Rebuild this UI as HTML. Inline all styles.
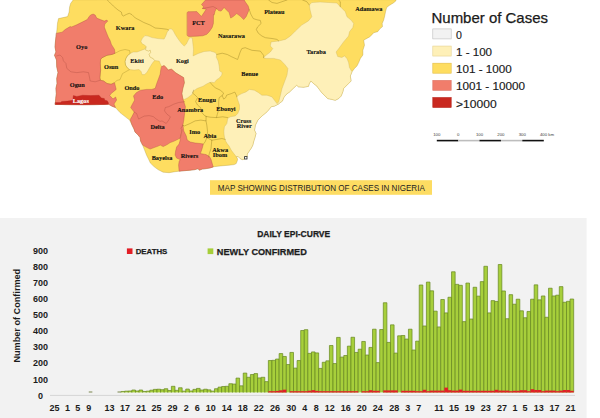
<!DOCTYPE html>
<html lang="en"><head><meta charset="utf-8"><title>COVID-19 Nigeria map and epi-curve</title>
<style>html,body{margin:0;padding:0;background:#fff}body{width:600px;height:418px;overflow:hidden}svg{display:block}</style>
</head><body>
<svg width="600" height="418" viewBox="0 0 600 418">
<rect width="600" height="418" fill="#fff"/>
<g stroke-linejoin="round" stroke-linecap="round">
<polygon points="73.1,0.0 70.6,3.5 69.6,7.0 69.1,12.1 67.6,16.6 63.1,17.6 58.5,18.6 57.5,23.1 57.0,29.1 56.5,33.2 56.0,36.2 55.5,41.0 55.0,46.9 55.9,51.9 54.5,55.3 56.5,60.0 56.7,66.8 58.0,72.6 56.7,78.5 57.0,83.5 55.9,88.5 56.3,93.6 55.7,98.6 55.3,104.4 66.8,104.6 83.5,104.7 96.9,104.6 104.0,104.4 108.5,104.2 112.0,106.2 115.5,107.6 120.0,112.6 125.1,116.6 129.6,120.1 132.0,125.0 134.0,129.0 135.0,132.0 138.1,135.0 140.1,137.6 140.6,141.1 142.6,145.1 144.6,150.1 146.6,155.2 148.6,159.2 150.4,163.1 154.0,166.6 158.0,169.6 163.1,172.2 169.1,172.7 175.1,171.7 179.1,171.2 184.2,170.7 190.2,170.2 195.2,169.6 198.2,168.6 199.2,170.2 202.3,169.1 206.3,168.6 210.1,167.9 214.1,166.7 218.1,166.2 223.1,165.7 229.1,165.2 234.2,164.6 236.2,163.6 237.2,161.1 237.7,159.1 236.2,156.6 238.2,156.6 240.2,158.6 242.2,159.6 244.7,159.1 247.2,156.6 247.2,154.1 249.2,151.1 251.3,148.1 252.8,145.1 253.8,141.0 254.8,138.0 256.0,133.5 254.5,130.2 255.4,125.1 257.9,120.1 262.1,115.9 267.1,111.7 271.3,106.7 274.5,106.1 277.8,104.4 282.4,101.1 283.7,97.7 286.2,94.4 289.6,91.9 293.4,88.2 296.7,85.2 298.4,86.8 303.4,87.2 308.4,86.4 309.3,83.5 310.9,81.0 313.5,83.5 316.8,86.0 319.3,89.4 321.8,92.7 325.2,96.1 327.7,98.6 331.9,99.4 335.2,100.3 338.6,98.6 341.1,96.1 342.8,91.9 343.6,88.5 346.1,86.0 348.6,83.5 351.1,81.0 350.3,76.0 352.0,71.8 354.5,68.4 357.0,65.9 358.7,62.6 360.4,58.4 362.9,55.0 362.9,50.3 364.5,45.2 363.7,40.2 369.6,36.9 372.2,34.5 373.7,32.7 377.7,31.7 379.7,29.1 382.5,26.6 382.2,23.6 383.7,20.0 384.7,16.0 385.7,11.0 386.7,7.5 389.2,5.5 393.3,3.0 395.8,1.0 396.0,0.0" fill="#FEDD60" stroke="#9C8424" stroke-width="0.3"/>
<polygon points="126.0,58.1 127.5,55.6 130.1,53.5 133.1,52.0 137.1,52.0 141.1,50.4 145.0,49.0 146.3,46.6 145.6,50.0 148.6,51.0 150.2,50.0 150.7,52.5 149.1,54.5 150.2,57.1 153.2,58.6 154.7,60.6 153.2,62.1 151.2,65.1 149.1,68.6 147.1,72.1 144.6,74.6 142.1,74.6 141.1,71.6 139.1,69.6 134.1,70.1 129.5,69.6 127.5,68.1 125.5,65.1 125.0,61.6" fill="#FEF0B8" stroke="#C9B05E" stroke-width="0.35"/>
<polygon points="141.0,41.1 142.5,38.1 145.0,35.6 148.1,36.1 152.1,37.6 158.1,38.6 164.1,39.1 165.7,36.1 167.2,32.0 169.2,29.0 171.2,28.8 173.2,30.5 175.2,34.5 178.2,39.1 181.2,43.1 184.2,46.1 186.3,44.1 188.3,40.1 189.8,37.6 192.3,38.1 192.8,43.1 193.5,49.1 193.1,55.9 198.1,53.5 204.1,51.5 210.2,51.0 215.2,52.5 216.7,54.5 216.2,57.1 218.2,61.1 219.2,66.1 219.7,71.1 222.2,72.6 221.7,75.2 219.2,78.2 216.7,79.7 214.2,82.7 211.7,82.2 209.2,82.7 206.2,84.2 203.1,86.2 197.0,88.5 193.7,91.0 192.0,94.4 187.8,97.7 184.4,99.4 182.8,98.6 181.9,93.6 182.8,88.5 184.4,82.7 183.6,77.6 179.4,75.1 175.3,72.6 173.3,70.6 171.3,69.1 168.2,70.1 166.2,67.6 164.2,65.6 161.7,66.6 160.2,63.6 159.2,61.1 154.7,60.6 153.2,58.6 150.2,57.1 149.1,54.5 150.7,52.5 150.2,50.0 148.6,51.0 145.6,50.0 146.3,46.6 144.5,45.1 142.0,43.6" fill="#FEF0B8" stroke="#C9B05E" stroke-width="0.35"/>
<polygon points="263.6,57.6 266.1,55.3 270.3,52.0 272.8,48.6 270.3,46.0 271.1,41.9 278.7,41.0 285.4,39.4 290.4,36.0 295.4,31.0 301.7,25.1 308.4,20.9 311.8,16.8 310.1,10.0 309.3,5.0 311.8,2.5 320.2,2.0 328.5,2.5 336.9,3.0 340.3,6.7 345.3,11.7 347.0,16.8 351.1,20.1 353.7,23.5 352.8,27.6 349.5,31.8 348.6,36.0 343.6,41.9 339.4,47.7 336.1,52.0 337.7,56.5 341.9,57.5 344.4,55.9 347.0,58.4 348.6,62.6 349.5,67.6 352.0,71.8 352.0,71.8 350.3,76.0 351.1,81.0 348.6,83.5 346.1,86.0 343.6,88.5 342.8,91.9 341.1,96.1 338.6,98.6 335.2,100.3 331.9,99.4 327.7,98.6 325.2,96.1 321.8,92.7 319.3,89.4 316.8,86.0 313.5,83.5 310.9,81.0 309.3,83.5 308.4,86.4 303.4,87.2 298.4,86.8 296.7,85.2 293.4,88.2 289.6,91.9 286.2,94.4 283.7,97.7 282.4,101.1 277.8,104.4 277.0,103.6 278.7,101.9 280.4,95.2 282.0,88.5 284.5,81.8 287.0,75.1 287.9,68.4 284.5,64.2 280.4,60.0 273.7,58.4 266.1,58.4" fill="#FEF0B8" stroke="#C9B05E" stroke-width="0.35"/>
<polygon points="277.0,103.6 277.8,104.4 277.8,104.4 274.5,106.1 271.3,106.7 267.1,111.7 262.1,115.9 257.9,120.1 255.4,125.1 254.5,130.2 256.0,133.5 254.8,138.0 253.8,141.0 252.8,145.1 251.3,148.1 249.2,151.1 247.2,154.1 247.2,156.6 244.7,159.1 242.2,159.6 240.2,158.6 238.2,156.6 236.2,156.6 234.2,154.1 231.2,150.1 229.1,146.1 227.1,143.5 225.6,141.0 224.6,138.0 224.1,135.0 223.9,131.0 224.4,126.8 226.9,123.5 227.7,118.4 230.3,116.8 235.3,115.9 237.8,113.4 239.5,109.2 239.5,105.0 237.8,100.0 236.8,96.9 238.5,95.2 241.8,93.6 246.0,91.9 249.4,89.4 254.4,90.2 258.6,92.7 261.9,95.2 267.0,95.2 272.0,96.9 274.5,100.3" fill="#FEF0B8" stroke="#C9B05E" stroke-width="0.35"/>
<polygon points="100.6,59.5 101.9,57.8 107.0,55.3 112.0,54.4 115.0,53.3 120.0,50.7 125.0,49.5 129.5,50.5 130.1,53.5 127.5,55.6 126.0,58.1 125.0,61.6 125.5,65.1 127.5,68.1 129.5,69.6 126.0,71.6 122.5,73.6 121.0,77.2 120.0,79.7 117.0,80.4 114.5,82.7 111.1,84.3 107.0,83.5 103.6,81.0 100.3,80.2 99.9,77.6 100.6,70.1 100.3,63.4" fill="#FEDD60" stroke="#9C8424" stroke-width="0.35"/>
<polygon points="56.5,33.2 62.1,32.2 65.1,29.6 70.1,26.6 71.6,26.9 76.1,25.1 82.2,22.1 87.2,19.6 89.2,16.6 90.7,14.9 93.2,14.1 95.2,15.1 96.7,18.1 100.3,19.6 104.3,21.1 106.8,20.1 107.8,21.1 106.3,22.6 104.8,24.1 104.3,27.1 106.3,32.2 108.3,37.2 110.0,40.2 111.4,44.4 114.5,49.4 115.0,53.3 112.0,54.4 107.0,55.3 101.9,57.8 100.6,59.5 100.3,63.4 100.6,70.1 99.9,77.6 100.3,80.2 103.6,81.0 107.0,83.5 111.1,84.3 114.5,82.7 116.2,89.4 111.1,93.6 109.7,95.5 113.0,99.0 115.6,97.0 116.6,100.0 114.0,104.0 115.5,107.6 112.0,106.2 108.5,104.2 104.0,104.4 96.9,104.6 83.5,104.7 66.8,104.6 55.3,104.4 55.7,98.6 56.3,93.6 55.9,88.5 57.0,83.5 56.7,78.5 58.0,72.6 56.7,66.8 56.5,60.0 54.5,55.3 55.9,51.9 55.0,46.9 55.5,41.0 56.0,36.2" fill="#F17D6B" stroke="#A8483C" stroke-width="0.35"/>
<polygon points="161.7,66.6 164.2,65.6 166.2,67.6 168.2,70.1 171.3,69.1 173.3,70.6 175.3,72.6 179.4,75.1 183.6,77.6 184.4,82.7 182.8,88.5 181.9,93.6 182.8,98.6 184.4,103.6 185.4,106.7 184.6,113.4 183.8,120.1 182.9,125.1 182.1,130.2 180.4,137.7 179.8,138.1 178.3,139.1 174.2,141.1 170.2,142.6 167.2,144.6 163.2,146.6 160.2,145.1 158.2,146.1 154.1,147.6 150.1,149.1 146.1,147.1 142.6,145.1 140.6,141.1 140.1,137.6 138.1,135.0 135.0,132.0 134.0,129.0 132.0,125.0 130.2,119.6 132.2,116.1 134.2,112.1 130.7,107.6 132.2,104.5 134.7,100.0 133.5,96.0 136.3,92.7 140.5,90.2 146.8,89.4 151.8,89.4 155.3,88.3 155.9,86.0 157.2,82.2 158.7,78.2 160.2,74.1 160.7,70.1" fill="#F17D6B" stroke="#A8483C" stroke-width="0.35"/>
<polygon points="181.1,128.0 182.9,125.1 183.8,131.0 186.3,136.0 187.2,140.0 190.2,142.0 195.2,143.0 200.3,143.5 203.3,144.0 202.3,148.0 201.3,151.1 200.3,153.6 204.3,154.2 206.0,154.6 209.5,156.6 211.1,159.6 212.1,163.1 213.2,167.0 210.1,167.9 206.3,168.6 202.3,169.1 199.2,170.2 198.2,168.6 195.2,169.6 190.2,170.2 184.2,170.7 179.1,171.2 178.6,165.1 179.1,161.6 180.2,159.6 176.6,158.1 175.1,155.1 175.6,151.1 176.6,147.0 179.1,144.0 180.2,140.0 179.8,138.1 180.4,137.7 182.1,130.2" fill="#F17D6B" stroke="#A8483C" stroke-width="0.35"/>
<polygon points="187.2,12.6 187.9,11.7 196.8,11.6 201.4,16.4 204.0,12.6 206.2,9.2 202.5,8.5 203.5,6.8 201.5,4.5 205.5,0.0 244.2,0.0 245.7,2.5 248.2,6.0 249.2,9.5 247.7,13.1 246.2,16.6 243.7,19.6 240.2,16.1 236.7,13.6 233.2,16.6 230.7,18.1 229.1,12.6 226.6,10.1 224.1,7.5 221.1,11.1 218.6,10.6 216.6,8.5 215.1,11.1 214.1,15.1 213.5,14.7 213.4,23.4 212.2,27.4 209.5,31.4 206.8,34.3 202.8,35.8 196.8,36.2 188.7,36.5 187.3,35.5" fill="#F17D6B" stroke="#A8483C" stroke-width="0.35"/>
<polygon points="55.4,102.6 60.5,102.6 61.7,101.4 67.5,101.1 72.8,100.3 73.3,95.6 76.8,96.4 82.7,95.2 90.8,95.6 99.0,95.2 101.3,98.0 104.3,98.5 104.8,100.3 107.2,100.8 108.3,102.6 108.5,104.2 104.0,104.4 96.9,104.6 83.5,104.7 66.8,104.6 55.3,104.4" fill="#C9281F" stroke="#A8201A" stroke-width="0.3"/>
<polyline points="56.7,55.9 60.0,55.0 62.6,57.5 63.4,60.9 65.9,63.4 66.8,68.4 70.9,71.8 76.8,72.6 83.5,71.8 88.5,72.6 89.4,76.8 90.2,81.0 95.2,81.8 100.3,80.2" fill="none" stroke="#A8483C" stroke-width="0.35"/>
<polyline points="134.2,112.1 136.7,113.6 137.7,116.6 138.7,119.1 141.2,117.6 144.2,116.1 149.2,115.6 153.3,116.6 156.3,119.1 160.0,121.4 162.0,120.9 166.2,123.5 168.7,120.1 170.4,116.8 167.0,114.2 164.5,110.9 165.3,107.5 168.7,106.7 173.7,104.2 178.7,102.5 184.6,101.7" fill="none" stroke="#A8483C" stroke-width="0.35"/>
<polyline points="202.5,8.5 208.0,7.5 213.1,6.5 216.6,8.5" fill="none" stroke="#A8483C" stroke-width="0.35"/>
<polyline points="107.3,0.0 109.3,2.0 113.3,6.0 118.0,10.0 121.3,12.0 122.0,15.0 123.3,16.0 126.7,14.3 129.3,13.3 132.0,14.7 135.3,18.0 139.8,20.3 143.8,22.5 150.0,25.0 152.6,26.5 155.1,28.0 161.1,28.5 167.2,29.3 168.5,30.0" fill="none" stroke="#9C8424" stroke-width="0.45"/>
<polyline points="249.2,9.5 250.8,14.1 253.3,18.6 257.0,19.8 260.3,20.4 261.1,23.5 257.7,26.8 256.3,29.5 258.3,33.2 261.9,36.0 265.3,37.7 272.0,38.5 277.0,39.4 278.7,41.0" fill="none" stroke="#9C8424" stroke-width="0.45"/>
<polyline points="268.6,0.0 272.0,2.5 277.0,3.4 282.0,1.7 287.0,0.0" fill="none" stroke="#9C8424" stroke-width="0.45"/>
<polyline points="302.6,0.0 306.8,1.7 309.3,5.0" fill="none" stroke="#9C8424" stroke-width="0.45"/>
<polyline points="338.6,0.0 340.3,1.7 340.3,6.7" fill="none" stroke="#9C8424" stroke-width="0.45"/>
<polyline points="216.7,54.5 222.2,53.2 227.3,54.5 231.3,56.6 237.6,59.5 240.2,52.0 241.8,48.6 245.2,47.7 251.9,50.3 260.3,51.1 263.6,55.3 263.6,57.6" fill="none" stroke="#9C8424" stroke-width="0.45"/>
<polyline points="210.2,82.5 213.2,86.0 215.7,88.0 220.2,90.1 223.7,93.1 222.2,95.6 223.7,99.1 225.7,97.6 226.7,95.1 231.3,93.6 234.8,92.1 236.3,95.1 236.8,96.9" fill="none" stroke="#9C8424" stroke-width="0.45"/>
<polyline points="222.2,95.6 219.2,97.6 218.7,101.6 218.7,106.1 218.2,111.2 217.2,114.7 216.4,117.6" fill="none" stroke="#9C8424" stroke-width="0.45"/>
<polyline points="193.6,90.1 192.6,93.1 195.1,95.1 197.6,97.6 195.6,101.6 197.6,105.1 200.6,107.6 201.6,112.2 204.1,115.2 206.1,116.4" fill="none" stroke="#9C8424" stroke-width="0.45"/>
<polyline points="206.1,116.4 210.2,117.2 216.4,117.6 222.7,116.8 227.7,117.6" fill="none" stroke="#9C8424" stroke-width="0.45"/>
<polyline points="182.9,125.1 184.2,126.0 190.1,123.5 195.1,120.9 200.9,120.1 206.0,120.9 206.1,116.4" fill="none" stroke="#9C8424" stroke-width="0.45"/>
<polyline points="206.0,120.9 206.8,125.1 207.6,131.8 206.8,137.7 205.1,141.9 203.5,143.9" fill="none" stroke="#9C8424" stroke-width="0.45"/>
<polyline points="211.8,140.2 216.9,139.4 221.9,138.5 225.2,139.4" fill="none" stroke="#9C8424" stroke-width="0.45"/>
<polyline points="211.8,140.2 211.0,148.6 209.3,153.6 208.5,157.0" fill="none" stroke="#9C8424" stroke-width="0.45"/>
<polyline points="206.8,137.7 211.8,140.2" fill="none" stroke="#9C8424" stroke-width="0.45"/>
</g>
<g font-family="'Liberation Serif', serif" font-weight="bold" font-size="6.3" text-anchor="middle" stroke-width="0.12">
<text x="81.7" y="49.3" fill="#111" stroke="#111">Oyo</text>
<text x="125.1" y="29.6" fill="#111" stroke="#111">Kwara</text>
<text x="198.5" y="24.6" fill="#111" stroke="#111">FCT</text>
<text x="274.3" y="13.9" fill="#111" stroke="#111">Plateau</text>
<text x="231.4" y="38.1" fill="#111" stroke="#111">Nasarawa</text>
<text x="137" y="63.4" fill="#111" stroke="#111">Ekiti</text>
<text x="182.4" y="62.8" fill="#111" stroke="#111">Kogi</text>
<text x="111.2" y="69.2" fill="#111" stroke="#111">Osun</text>
<text x="249.6" y="76.3" fill="#111" stroke="#111">Benue</text>
<text x="132" y="90.0" fill="#111" stroke="#111">Ondo</text>
<text x="77.3" y="87.1" fill="#111" stroke="#111">Ogun</text>
<text x="157.7" y="99.0" fill="#111" stroke="#111">Edo</text>
<text x="80.8" y="102.9" fill="#fff" stroke="#fff">Lagos</text>
<text x="207" y="102.2" fill="#111" stroke="#111">Enugu</text>
<text x="190.2" y="112.1" fill="#111" stroke="#111">Anambra</text>
<text x="226" y="111.0" fill="#111" stroke="#111">Ebonyi</text>
<text x="243.6" y="122.9" fill="#111" stroke="#111">Cross</text>
<text x="244.2" y="128.0" fill="#111" stroke="#111">River</text>
<text x="157.6" y="129.3" fill="#111" stroke="#111">Delta</text>
<text x="194.7" y="133.8" fill="#111" stroke="#111">Imo</text>
<text x="209.9" y="137.9" fill="#111" stroke="#111">Abia</text>
<text x="220.2" y="151.6" fill="#111" stroke="#111">Akwa</text>
<text x="220" y="156.5" fill="#111" stroke="#111">Ibom</text>
<text x="162" y="160.1" fill="#111" stroke="#111">Bayelsa</text>
<text x="189.4" y="158.0" fill="#111" stroke="#111">Rivers</text>
<text x="316.2" y="54.1" fill="#111" stroke="#111">Taraba</text>
<text x="368.8" y="10.7" fill="#111" stroke="#111">Adamawa</text>
</g>
<rect x="244.6" y="156.6" width="2.4" height="2.4" fill="#fff" stroke="#222" stroke-width="0.8"/>
<g font-family="'Liberation Sans', sans-serif" fill="#1a1a1a">
<text x="431.5" y="23.3" font-size="14.2" stroke="#1a1a1a" stroke-width="0.25" textLength="116.5" lengthAdjust="spacingAndGlyphs">Number of Cases</text>
<rect x="432.8" y="28.90" width="18.4" height="10" fill="#F2F2F2" stroke="#BDBDBD" stroke-width="0.6"/>
<text x="456" y="39.00" font-size="10.6" stroke="#1a1a1a" stroke-width="0.15">0</text>
<rect x="432.8" y="46.05" width="18.4" height="10" fill="#FEF0B8" stroke="#E6D28F" stroke-width="0.6"/>
<text x="456" y="56.15" font-size="10.6" stroke="#1a1a1a" stroke-width="0.15" textLength="36" lengthAdjust="spacingAndGlyphs">1 - 100</text>
<rect x="432.8" y="63.20" width="18.4" height="10" fill="#FEDD60" stroke="#E2BC45" stroke-width="0.6"/>
<text x="456" y="73.30" font-size="10.6" stroke="#1a1a1a" stroke-width="0.15" textLength="55.7" lengthAdjust="spacingAndGlyphs">101 - 1000</text>
<rect x="432.8" y="80.35" width="18.4" height="10" fill="#F17D6B" stroke="#DD7466" stroke-width="0.6"/>
<text x="456" y="90.45" font-size="10.6" stroke="#1a1a1a" stroke-width="0.15" textLength="69" lengthAdjust="spacingAndGlyphs">1001 - 10000</text>
<rect x="432.8" y="97.50" width="18.4" height="10" fill="#C9281F" stroke="#B7241C" stroke-width="0.6"/>
<text x="456" y="107.60" font-size="10.6" stroke="#1a1a1a" stroke-width="0.15" textLength="40.6" lengthAdjust="spacingAndGlyphs">&gt;10000</text>
</g>
<g>
<rect x="436.8" y="139.8" width="21.5" height="1.6" fill="#111"/>
<rect x="458.2" y="139.8" width="21.5" height="1.6" fill="#BDBDBD"/>
<rect x="479.5" y="139.8" width="21.5" height="1.6" fill="#111"/>
<rect x="500.9" y="139.8" width="21.5" height="1.6" fill="#BDBDBD"/>
<rect x="522.3" y="139.8" width="21.5" height="1.6" fill="#111"/>
<g font-family="'Liberation Sans', sans-serif" font-size="4.3" fill="#3a3a3a" text-anchor="middle">
<text x="436.8" y="136.4">100</text>
<text x="458.2" y="136.4">0</text>
<text x="479.5" y="136.4">100</text>
<text x="500.9" y="136.4">200</text>
<text x="522.3" y="136.4">300</text>
<text x="547" y="136.4">400 km</text>
</g></g>
<rect x="210" y="180.2" width="222" height="14.6" fill="#FDDC62"/>
<text x="217.8" y="191" font-family="'Liberation Sans', sans-serif" font-size="9.1" fill="#222" textLength="207" lengthAdjust="spacingAndGlyphs">MAP SHOWING DISTRIBUTION OF CASES IN NIGERIA</text>
<rect x="0" y="218" width="586.6" height="200" fill="#F2F2F2"/>
<g font-family="'Liberation Sans', sans-serif" font-weight="bold" fill="#1c1c1c">
<text x="293.7" y="236.8" font-size="8.4" stroke="#1c1c1c" stroke-width="0.25" text-anchor="middle" textLength="73" lengthAdjust="spacingAndGlyphs">DAILY EPI-CURVE</text>
<rect x="126.9" y="248.4" width="5.6" height="5.6" fill="#E21E26"/>
<text x="135.7" y="254" font-size="7.7" stroke="#1c1c1c" stroke-width="0.25" textLength="31.6" lengthAdjust="spacingAndGlyphs">DEATHS</text>
<rect x="207.6" y="248.4" width="5.7" height="5.7" fill="#A6CE39"/>
<text x="216.8" y="254.6" font-size="9" stroke="#1c1c1c" stroke-width="0.25" textLength="90" lengthAdjust="spacingAndGlyphs">NEWLY CONFIRMED</text>
<text transform="translate(19.8,315.7) rotate(-90)" font-size="9.15" text-anchor="middle">Number of Confirmed</text>
<g font-size="9" text-anchor="middle">
<text x="40.6" y="398.65">0</text>
<text x="40.6" y="382.57">100</text>
<text x="40.6" y="366.49">200</text>
<text x="40.6" y="350.42">300</text>
<text x="40.6" y="334.34">400</text>
<text x="40.6" y="318.26">500</text>
<text x="40.6" y="302.18">600</text>
<text x="40.6" y="286.10">700</text>
<text x="40.6" y="270.03">800</text>
<text x="40.6" y="253.95">900</text>
<text x="54.5" y="411.1">25</text>
<text x="67.5" y="411.1">1</text>
<text x="77.7" y="411.1">5</text>
<text x="88.8" y="411.1">9</text>
<text x="109.4" y="411.1">13</text>
<text x="125" y="411.1">17</text>
<text x="141" y="411.1">21</text>
<text x="156.5" y="411.1">25</text>
<text x="172.6" y="411.1">29</text>
<text x="186.2" y="411.1">2</text>
<text x="197.2" y="411.1">6</text>
<text x="210.8" y="411.1">10</text>
<text x="226.8" y="411.1">14</text>
<text x="242.7" y="411.1">18</text>
<text x="258.8" y="411.1">22</text>
<text x="275" y="411.1">26</text>
<text x="291.3" y="411.1">30</text>
<text x="304.7" y="411.1">4</text>
<text x="316.2" y="411.1">8</text>
<text x="329.7" y="411.1">12</text>
<text x="345.7" y="411.1">16</text>
<text x="361.8" y="411.1">20</text>
<text x="377.8" y="411.1">24</text>
<text x="394.2" y="411.1">28</text>
<text x="407.8" y="411.1">3</text>
<text x="418.8" y="411.1">7</text>
<text x="439" y="411.1">11</text>
<text x="453.9" y="411.1">15</text>
<text x="469.7" y="411.1">19</text>
<text x="485.8" y="411.1">23</text>
<text x="502.1" y="411.1">27</text>
<text x="515" y="411.1">1</text>
<text x="525.1" y="411.1">5</text>
<text x="538.7" y="411.1">13</text>
<text x="554.5" y="411.1">17</text>
<text x="570.5" y="411.1">21</text>
</g></g>
<rect x="50" y="394.9" width="525" height="0.9" fill="#D2D2D2"/>
<g fill="#A7CF3B" stroke="#66861F" stroke-width="0.7">
<path d="M121.09 392.40V391.47h3.592V392.40"/>
<path d="M124.68 392.40V391.14h3.592V392.40"/>
<path d="M128.27 392.40V390.98h3.592V392.40"/>
<path d="M131.87 392.40V390.01h3.592V392.40"/>
<path d="M135.46 392.40V390.98h3.592V392.40"/>
<path d="M139.05 392.40V390.01h3.592V392.40"/>
<path d="M142.64 392.40V391.47h3.592V392.40"/>
<path d="M146.23 392.40V391.14h3.592V392.40"/>
<path d="M149.83 392.40V390.18h3.592V392.40"/>
<path d="M153.42 392.40V389.37h3.592V392.40"/>
<path d="M157.01 392.40V389.21h3.592V392.40"/>
<path d="M160.60 392.40V389.69h3.592V392.40"/>
<path d="M164.19 392.40V388.72h3.592V392.40"/>
<path d="M167.79 392.40V390.50h3.592V392.40"/>
<path d="M171.38 392.40V386.30h3.592V392.40"/>
<path d="M174.97 392.40V390.34h3.592V392.40"/>
<path d="M178.56 392.40V387.76h3.592V392.40"/>
<path d="M182.15 392.40V391.14h3.592V392.40"/>
<path d="M185.75 392.40V389.05h3.592V392.40"/>
<path d="M189.34 392.40V390.98h3.592V392.40"/>
<path d="M192.93 392.40V389.37h3.592V392.40"/>
<path d="M196.52 392.40V388.40h3.592V392.40"/>
<path d="M200.11 392.40V390.01h3.592V392.40"/>
<path d="M203.71 392.40V389.21h3.592V392.40"/>
<path d="M207.30 392.40V389.85h3.592V392.40"/>
<path d="M210.89 392.40V391.14h3.592V392.40"/>
<path d="M214.48 392.40V388.72h3.592V392.40"/>
<path d="M218.07 392.40V387.11h3.592V392.40"/>
<path d="M221.67 392.40V386.47h3.592V392.40"/>
<path d="M225.26 392.40V386.30h3.592V392.40"/>
<path d="M228.85 392.40V383.72h3.592V392.40"/>
<path d="M232.44 392.40V384.05h3.592V392.40"/>
<path d="M236.03 392.40V378.08h3.592V392.40"/>
<path d="M239.63 392.40V385.82h3.592V392.40"/>
<path d="M243.22 392.40V373.08h3.592V392.40"/>
<path d="M246.81 392.40V377.27h3.592V392.40"/>
<path d="M250.40 392.40V374.53h3.592V392.40"/>
<path d="M253.99 392.40V373.56h3.592V392.40"/>
<path d="M257.59 392.40V377.92h3.592V392.40"/>
<path d="M261.18 392.40V377.27h3.592V392.40"/>
<path d="M264.77 392.40V381.63h3.592V392.40"/>
<path d="M268.36 392.40V360.49h3.592V392.40"/>
<path d="M271.95 392.40V360.33h3.592V392.40"/>
<path d="M275.55 392.40V359.04h3.592V392.40"/>
<path d="M279.14 392.40V353.56h3.592V392.40"/>
<path d="M282.73 392.40V356.46h3.592V392.40"/>
<path d="M286.32 392.40V364.53h3.592V392.40"/>
<path d="M289.91 392.40V352.43h3.592V392.40"/>
<path d="M293.51 392.40V368.07h3.592V392.40"/>
<path d="M297.10 392.40V360.49h3.592V392.40"/>
<path d="M300.69 392.40V330.49h3.592V392.40"/>
<path d="M304.28 392.40V329.68h3.592V392.40"/>
<path d="M307.87 392.40V353.39h3.592V392.40"/>
<path d="M311.47 392.40V351.94h3.592V392.40"/>
<path d="M315.06 392.40V352.91h3.592V392.40"/>
<path d="M318.65 392.40V368.40h3.592V392.40"/>
<path d="M322.24 392.40V362.27h3.592V392.40"/>
<path d="M325.83 392.40V360.82h3.592V392.40"/>
<path d="M329.43 392.40V345.49h3.592V392.40"/>
<path d="M333.02 392.40V363.56h3.592V392.40"/>
<path d="M336.61 392.40V337.42h3.592V392.40"/>
<path d="M340.20 392.40V357.10h3.592V392.40"/>
<path d="M343.79 392.40V355.49h3.592V392.40"/>
<path d="M347.39 392.40V346.14h3.592V392.40"/>
<path d="M350.98 392.40V337.26h3.592V392.40"/>
<path d="M354.57 392.40V352.43h3.592V392.40"/>
<path d="M358.16 392.40V349.20h3.592V392.40"/>
<path d="M361.75 392.40V341.46h3.592V392.40"/>
<path d="M365.35 392.40V355.01h3.592V392.40"/>
<path d="M368.94 392.40V347.43h3.592V392.40"/>
<path d="M372.53 392.40V329.20h3.592V392.40"/>
<path d="M376.12 392.40V362.59h3.592V392.40"/>
<path d="M379.71 392.40V329.52h3.592V392.40"/>
<path d="M383.31 392.40V302.74h3.592V392.40"/>
<path d="M386.90 392.40V342.42h3.592V392.40"/>
<path d="M390.49 392.40V324.84h3.592V392.40"/>
<path d="M394.08 392.40V353.07h3.592V392.40"/>
<path d="M397.67 392.40V335.81h3.592V392.40"/>
<path d="M401.27 392.40V335.49h3.592V392.40"/>
<path d="M404.86 392.40V339.04h3.592V392.40"/>
<path d="M408.45 392.40V329.20h3.592V392.40"/>
<path d="M412.04 392.40V350.01h3.592V392.40"/>
<path d="M415.63 392.40V341.13h3.592V392.40"/>
<path d="M419.23 392.40V284.99h3.592V392.40"/>
<path d="M422.82 392.40V325.97h3.592V392.40"/>
<path d="M426.41 392.40V282.09h3.592V392.40"/>
<path d="M430.00 392.40V290.80h3.592V392.40"/>
<path d="M433.59 392.40V311.13h3.592V392.40"/>
<path d="M437.19 392.40V326.94h3.592V392.40"/>
<path d="M440.78 392.40V299.51h3.592V392.40"/>
<path d="M444.37 392.40V312.90h3.592V392.40"/>
<path d="M447.96 392.40V297.26h3.592V392.40"/>
<path d="M451.55 392.40V271.77h3.592V392.40"/>
<path d="M455.15 392.40V284.35h3.592V392.40"/>
<path d="M458.74 392.40V285.32h3.592V392.40"/>
<path d="M462.33 392.40V321.61h3.592V392.40"/>
<path d="M465.92 392.40V283.06h3.592V392.40"/>
<path d="M469.51 392.40V319.03h3.592V392.40"/>
<path d="M473.11 392.40V287.25h3.592V392.40"/>
<path d="M476.70 392.40V296.13h3.592V392.40"/>
<path d="M480.29 392.40V281.61h3.592V392.40"/>
<path d="M483.88 392.40V266.28h3.592V392.40"/>
<path d="M487.47 392.40V312.90h3.592V392.40"/>
<path d="M491.07 392.40V300.64h3.592V392.40"/>
<path d="M494.66 392.40V301.45h3.592V392.40"/>
<path d="M498.25 392.40V264.51h3.592V392.40"/>
<path d="M501.84 392.40V290.96h3.592V392.40"/>
<path d="M505.43 392.40V318.71h3.592V392.40"/>
<path d="M509.03 392.40V294.67h3.592V392.40"/>
<path d="M512.62 392.40V304.19h3.592V392.40"/>
<path d="M516.21 392.40V299.19h3.592V392.40"/>
<path d="M519.80 392.40V310.81h3.592V392.40"/>
<path d="M523.39 392.40V317.74h3.592V392.40"/>
<path d="M526.99 392.40V311.45h3.592V392.40"/>
<path d="M530.58 392.40V299.19h3.592V392.40"/>
<path d="M534.17 392.40V284.83h3.592V392.40"/>
<path d="M537.76 392.40V299.84h3.592V392.40"/>
<path d="M541.35 392.40V295.96h3.592V392.40"/>
<path d="M544.95 392.40V317.26h3.592V392.40"/>
<path d="M548.54 392.40V288.22h3.592V392.40"/>
<path d="M552.13 392.40V295.96h3.592V392.40"/>
<path d="M555.72 392.40V295.16h3.592V392.40"/>
<path d="M559.31 392.40V286.61h3.592V392.40"/>
<path d="M562.91 392.40V302.26h3.592V392.40"/>
<path d="M566.50 392.40V301.29h3.592V392.40"/>
<path d="M570.09 392.40V299.03h3.592V392.40"/>
</g>
<g fill="#6E7B3C">
<rect x="88.76" y="391.55" width="3.592" height="0.9"/>
<rect x="117.50" y="391.55" width="3.592" height="0.9"/>
</g>
<g fill="#E21E26">
<rect x="268.36" y="391.20" width="3.592" height="1.30"/>
<rect x="271.95" y="391.20" width="3.592" height="1.30"/>
<rect x="275.55" y="390.92" width="3.592" height="1.58"/>
<rect x="279.14" y="390.30" width="3.592" height="2.20"/>
<rect x="282.73" y="389.67" width="3.592" height="2.83"/>
<rect x="289.91" y="391.20" width="3.592" height="1.30"/>
<rect x="293.51" y="391.20" width="3.592" height="1.30"/>
<rect x="297.10" y="391.20" width="3.592" height="1.30"/>
<rect x="300.69" y="391.20" width="3.592" height="1.30"/>
<rect x="304.28" y="391.20" width="3.592" height="1.30"/>
<rect x="307.87" y="390.73" width="3.592" height="1.77"/>
<rect x="311.47" y="390.14" width="3.592" height="2.36"/>
<rect x="315.06" y="390.89" width="3.592" height="1.61"/>
<rect x="318.65" y="391.20" width="3.592" height="1.30"/>
<rect x="322.24" y="391.20" width="3.592" height="1.30"/>
<rect x="325.83" y="391.20" width="3.592" height="1.30"/>
<rect x="329.43" y="391.20" width="3.592" height="1.30"/>
<rect x="333.02" y="391.20" width="3.592" height="1.30"/>
<rect x="336.61" y="391.20" width="3.592" height="1.30"/>
<rect x="340.20" y="391.20" width="3.592" height="1.30"/>
<rect x="343.79" y="391.20" width="3.592" height="1.30"/>
<rect x="347.39" y="391.20" width="3.592" height="1.30"/>
<rect x="350.98" y="391.20" width="3.592" height="1.30"/>
<rect x="354.57" y="391.20" width="3.592" height="1.30"/>
<rect x="361.75" y="391.20" width="3.592" height="1.30"/>
<rect x="365.35" y="391.20" width="3.592" height="1.30"/>
<rect x="368.94" y="390.20" width="3.592" height="2.30"/>
<rect x="372.53" y="390.80" width="3.592" height="1.70"/>
<rect x="376.12" y="390.80" width="3.592" height="1.70"/>
<rect x="383.31" y="390.40" width="3.592" height="2.10"/>
<rect x="386.90" y="390.40" width="3.592" height="2.10"/>
<rect x="390.49" y="390.40" width="3.592" height="2.10"/>
<rect x="394.08" y="390.40" width="3.592" height="2.10"/>
<rect x="401.27" y="390.80" width="3.592" height="1.70"/>
<rect x="404.86" y="390.80" width="3.592" height="1.70"/>
<rect x="408.45" y="390.80" width="3.592" height="1.70"/>
<rect x="412.04" y="390.80" width="3.592" height="1.70"/>
<rect x="415.63" y="391.20" width="3.592" height="1.30"/>
<rect x="419.23" y="391.20" width="3.592" height="1.30"/>
<rect x="422.82" y="389.80" width="3.592" height="2.70"/>
<rect x="426.41" y="391.20" width="3.592" height="1.30"/>
<rect x="430.00" y="390.60" width="3.592" height="1.90"/>
<rect x="433.59" y="390.60" width="3.592" height="1.90"/>
<rect x="437.19" y="390.60" width="3.592" height="1.90"/>
<rect x="440.78" y="390.60" width="3.592" height="1.90"/>
<rect x="444.37" y="387.60" width="3.592" height="4.90"/>
<rect x="447.96" y="390.20" width="3.592" height="2.30"/>
<rect x="451.55" y="390.60" width="3.592" height="1.90"/>
<rect x="455.15" y="390.60" width="3.592" height="1.90"/>
<rect x="458.74" y="389.60" width="3.592" height="2.90"/>
<rect x="462.33" y="390.80" width="3.592" height="1.70"/>
<rect x="465.92" y="390.80" width="3.592" height="1.70"/>
<rect x="469.51" y="390.80" width="3.592" height="1.70"/>
<rect x="473.11" y="390.80" width="3.592" height="1.70"/>
<rect x="476.70" y="390.80" width="3.592" height="1.70"/>
<rect x="480.29" y="390.80" width="3.592" height="1.70"/>
<rect x="483.88" y="390.80" width="3.592" height="1.70"/>
<rect x="487.47" y="390.80" width="3.592" height="1.70"/>
<rect x="491.07" y="390.80" width="3.592" height="1.70"/>
<rect x="494.66" y="389.80" width="3.592" height="2.70"/>
<rect x="498.25" y="390.60" width="3.592" height="1.90"/>
<rect x="501.84" y="390.60" width="3.592" height="1.90"/>
<rect x="505.43" y="390.60" width="3.592" height="1.90"/>
<rect x="509.03" y="391.20" width="3.592" height="1.30"/>
<rect x="512.62" y="390.80" width="3.592" height="1.70"/>
<rect x="516.21" y="390.80" width="3.592" height="1.70"/>
<rect x="519.80" y="390.20" width="3.592" height="2.30"/>
<rect x="523.39" y="390.20" width="3.592" height="2.30"/>
<rect x="526.99" y="391.20" width="3.592" height="1.30"/>
<rect x="530.58" y="389.20" width="3.592" height="3.30"/>
<rect x="534.17" y="390.00" width="3.592" height="2.50"/>
<rect x="537.76" y="390.00" width="3.592" height="2.50"/>
<rect x="541.35" y="391.20" width="3.592" height="1.30"/>
<rect x="544.95" y="390.60" width="3.592" height="1.90"/>
<rect x="548.54" y="390.60" width="3.592" height="1.90"/>
<rect x="552.13" y="390.60" width="3.592" height="1.90"/>
<rect x="555.72" y="391.20" width="3.592" height="1.30"/>
<rect x="559.31" y="390.60" width="3.592" height="1.90"/>
<rect x="562.91" y="390.00" width="3.592" height="2.50"/>
<rect x="566.50" y="390.00" width="3.592" height="2.50"/>
<rect x="570.09" y="390.80" width="3.592" height="1.70"/>
</g>
</svg>
</body></html>
